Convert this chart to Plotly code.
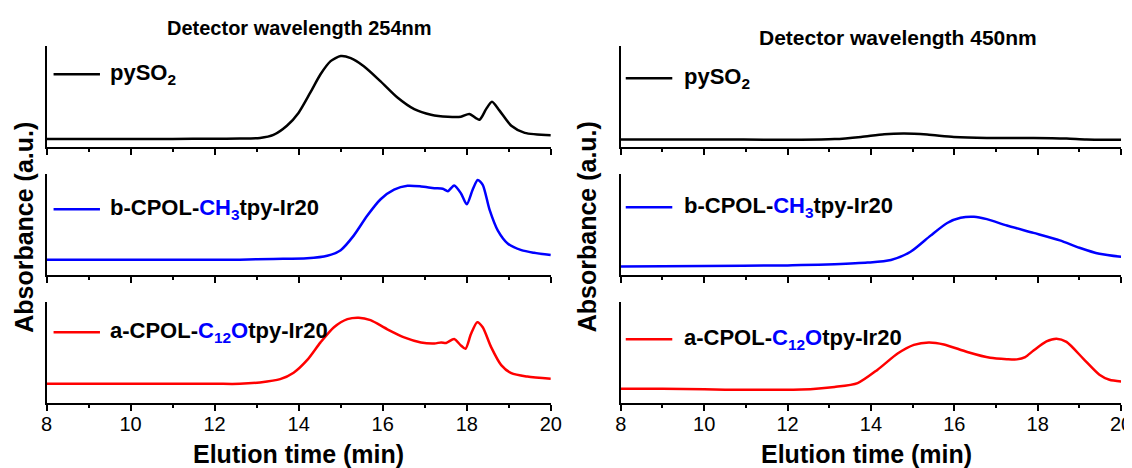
import plotly.graph_objects as go

# ---------------- data (elution time in min, absorbance in a.u.) ----------------
t_pyso2_254 = [8, 9, 10, 11, 12, 12.6, 13.08, 13.4, 13.72, 14.0, 14.28, 14.52, 14.76, 15.0, 15.24,
               15.55, 15.95, 16.35, 16.75, 17.15, 17.55, 17.86, 18.06, 18.3, 18.46, 18.6, 18.78,
               19.06, 19.38, 20.0]
a_pyso2_254 = [0.08, 0.08, 0.08, 0.08, 0.082, 0.084, 0.09, 0.12, 0.21, 0.34, 0.54, 0.72, 0.85, 0.90,
               0.88, 0.80, 0.65, 0.49, 0.375, 0.32, 0.30, 0.30, 0.327, 0.27, 0.375, 0.447, 0.36,
               0.21, 0.14, 0.117]

t_ch3_254 = [8, 10, 12, 12.6, 13.4, 14.2, 14.68, 15.0, 15.31, 15.63, 15.95, 16.27, 16.59, 16.91,
             17.23, 17.43, 17.55, 17.7, 17.86, 18.0, 18.14, 18.26, 18.38, 18.54, 18.74, 18.98,
             19.3, 19.6, 20]
a_ch3_254 = [0.15, 0.15, 0.15, 0.152, 0.159, 0.165, 0.19, 0.246, 0.39, 0.586, 0.75, 0.845, 0.883,
             0.877, 0.86, 0.854, 0.83, 0.887, 0.81, 0.70, 0.845, 0.94, 0.893, 0.65, 0.44, 0.31,
             0.246, 0.22, 0.197]

t_c12o_254 = [8, 10, 12, 12.6, 13.08, 13.56, 13.88, 14.2, 14.52, 14.84, 15.16, 15.43, 15.71, 16.11,
              16.51, 16.91, 17.23, 17.39, 17.51, 17.7, 17.86, 17.97, 18.1, 18.25, 18.38, 18.58,
              18.82, 19.06, 19.44, 20]
a_c12o_254 = [0.19, 0.19, 0.19, 0.19, 0.204, 0.236, 0.30, 0.424, 0.60, 0.75, 0.83, 0.845, 0.82,
              0.73, 0.65, 0.60, 0.59, 0.60, 0.595, 0.634, 0.57, 0.537, 0.683, 0.80, 0.75, 0.553,
              0.375, 0.295, 0.262, 0.24]

t_pyso2_450 = [8, 10, 12, 12.33, 13.13, 13.76, 14.32, 14.8, 15.35, 15.99, 16.78, 17.9, 18.69, 19.17, 20]
a_pyso2_450 = [0.075, 0.075, 0.072, 0.071, 0.078, 0.10, 0.126, 0.133, 0.123, 0.10, 0.09, 0.09,
               0.084, 0.074, 0.071]

t_ch3_450 = [8, 10, 12, 12.33, 13.13, 13.92, 14.48, 14.95, 15.43, 15.83, 16.15, 16.47, 16.78,
             17.26, 17.9, 18.53, 19.0, 19.48, 20]
a_ch3_450 = [0.085, 0.09, 0.095, 0.098, 0.107, 0.123, 0.149, 0.23, 0.39, 0.515, 0.566, 0.576,
             0.553, 0.49, 0.417, 0.343, 0.27, 0.21, 0.18]

t_c12o_450 = [8, 9, 10, 11, 12, 12.33, 13.13, 13.68, 14.16, 14.64, 15.03, 15.39, 15.75, 16.31,
              16.86, 17.26, 17.5, 17.7, 17.9, 18.21, 18.45, 18.69, 19.09, 19.48, 19.72, 20]
a_c12o_450 = [0.14, 0.14, 0.135, 0.13, 0.132, 0.133, 0.159, 0.197, 0.33, 0.49, 0.576, 0.60, 0.58,
              0.505, 0.447, 0.434, 0.432, 0.455, 0.52, 0.61, 0.637, 0.605, 0.44, 0.28, 0.23, 0.214]

series_names = [
    "pySO<sub>2</sub>",
    "b-CPOL-<span style='color:#0000FF'>CH<sub>3</sub></span>tpy-Ir20",
    "a-CPOL-<span style='color:#0000FF'>C<sub>12</sub>O</span>tpy-Ir20",
]
series_colors = ["#000000", "#0000FF", "#FF0000"]
panel_titles = ["Detector wavelength 254nm", "Detector wavelength 450nm"]
x_ticks = [8, 10, 12, 14, 16, 18, 20]
x_title = "Elution time (min)"
y_title = "Absorbance (a.u.)"

data = [
    [(t_pyso2_254, a_pyso2_254), (t_ch3_254, a_ch3_254), (t_c12o_254, a_c12o_254)],
    [(t_pyso2_450, a_pyso2_450), (t_ch3_450, a_ch3_450), (t_c12o_450, a_c12o_450)],
]

# ---------------- layout geometry ----------------
W, H = 1132, 468
FONT = "Arial, Liberation Sans, sans-serif"
col_px = [(33, 545), (616, 1124)]
row_px = [(38, 139), (166, 267), (294, 395)]
legend_y = [[0.72, 0.65, 0.70], [0.68, 0.67, 0.63]]
legend_x = [(0.014, 0.106, 0.122), (0.010, 0.103, 0.122)]

fig = go.Figure()
layout = dict(
    width=W, height=H, margin=dict(l=0, r=0, t=0, b=0),
    paper_bgcolor="white", plot_bgcolor="white", showlegend=False,
    font=dict(family=FONT, color="black"),
)
annotations = []
shapes = []

idx = 0
for c in range(2):
    x0, x1 = col_px[c]
    for r in range(3):
        idx += 1
        top, bot = row_px[r]
        xa = "xaxis" if idx == 1 else f"xaxis{idx}"
        ya = "yaxis" if idx == 1 else f"yaxis{idx}"
        xr = "x" if idx == 1 else f"x{idx}"
        yr = "y" if idx == 1 else f"y{idx}"
        layout[xa] = dict(
            domain=[x0 / W, x1 / W], anchor=yr, range=[8, 20],
            showline=True, linecolor="black", linewidth=1.5, mirror=False,
            ticks="outside", ticklen=6, tickwidth=1.5, tickcolor="black",
            tickvals=x_ticks, showticklabels=(r == 2), ticklabelstandoff=-4,
            tickfont=dict(size=20, family=FONT, color="black"),
            minor=dict(ticks="outside", ticklen=3, tickwidth=1.5, dtick=1, tick0=8, tickcolor="black"),
            showgrid=False, zeroline=False,
        )
        layout[ya] = dict(
            domain=[1 - bot / H, 1 - top / H], anchor=xr, range=[0, 1],
            showline=True, linecolor="black", linewidth=1.5,
            ticks="", showticklabels=False, showgrid=False, zeroline=False,
        )
        tx, ay = data[c][r]
        fig.add_trace(go.Scatter(
            x=tx, y=ay, mode="lines", xaxis=xr, yaxis=yr,
            line=dict(color=series_colors[r], width=2.5, shape="spline", smoothing=0.7),
            name=series_names[r], hoverinfo="skip", cliponaxis=False,
        ))
        # legend-like sample line and label inside each panel
        ly = legend_y[c][r]
        lx0, lx1, ltx = legend_x[c]
        shapes.append(dict(
            type="line", xref=f"{xr} domain", yref=f"{yr} domain",
            x0=lx0, x1=lx1, y0=ly, y1=ly,
            line=dict(color=series_colors[r], width=2.5),
        ))
        annotations.append(dict(
            xref=f"{xr} domain", yref=f"{yr} domain", x=ltx, y=ly,
            xanchor="left", yanchor="middle", showarrow=False,
            text=f"<b>{series_names[r]}</b>",
            font=dict(size=22, family=FONT, color="black"),
        ))

# panel titles
annotations.append(dict(xref="paper", yref="paper", x=290 / W, y=1 - 20 / H,
                        xanchor="center", yanchor="middle", showarrow=False,
                        text=f"<b>{panel_titles[0]}</b>", font=dict(size=20, family=FONT)))
annotations.append(dict(xref="paper", yref="paper", x=897 / W, y=1 - 30 / H,
                        xanchor="center", yanchor="middle", showarrow=False,
                        text=f"<b>{panel_titles[1]}</b>", font=dict(size=21, family=FONT)))
# axis titles
for cx in (289, 866):
    annotations.append(dict(xref="paper", yref="paper", x=cx / W, y=1 - 446 / H,
                            xanchor="center", yanchor="middle", showarrow=False,
                            text=f"<b>{x_title}</b>", font=dict(size=25, family=FONT)))
for cx in (10, 582):
    annotations.append(dict(xref="paper", yref="paper", x=cx / W, y=1 - 219 / H,
                            xanchor="center", yanchor="middle", showarrow=False, textangle=-90,
                            text=f"<b>{y_title}</b>", font=dict(size=25, family=FONT)))

layout["annotations"] = annotations
layout["shapes"] = shapes
fig.update_layout(**layout)
fig.write_html("out.html")
